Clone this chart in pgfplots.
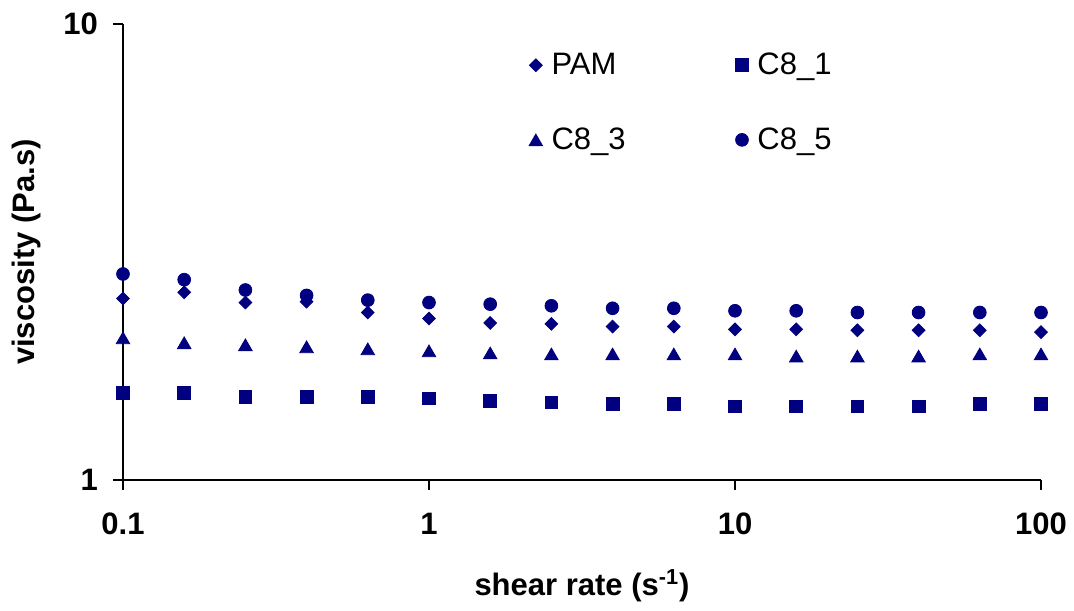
\documentclass[border=0pt]{standalone}
\usepackage{pgfplots}
\pgfplotsset{compat=1.18}
\usepackage{fontspec}
\setmainfont{Liberation Sans}
\definecolor{navy}{RGB}{0,0,128}
\begin{document}
\begin{tikzpicture}
\begin{axis}[
  name=ax, at={(0,0)}, anchor=south west,
  scale only axis, width=459pt, height=228pt,
  xmode=log, ymode=log,
  xmin=0.1, xmax=100, ymin=1, ymax=10,
  axis x line=bottom, axis y line=left,
  axis line style={-, line width=0.6pt, black},
  tick style={line width=0.6pt, black},
  tick align=outside, major tick length=5pt,
  minor tick num=0, 
  xminorticks=false, yminorticks=false,
  xtick={0.1,1,10,100}, xticklabels={\textbf{0.1},\textbf{1},\textbf{10},\textbf{100}},
  ytick={1,10}, yticklabels={\textbf{1},\textbf{10}},
  ticklabel style={font=\fontsize{15.5}{18}\selectfont},
  xticklabel style={yshift=-8pt},
  yticklabel style={xshift=-4pt},
  xlabel={\textbf{shear rate (s\textsuperscript{-1})}},
  ylabel={\textbf{viscosity (Pa.s)}},
  label style={font=\fontsize{15.5}{18}\selectfont},
  xlabel style={at={(0.5,0)}, anchor=base, yshift=-57.5pt},
  ylabel style={at={(0,0.5)}, anchor=base, rotate=0, yshift=44pt},
  legend columns=2,
  legend style={draw=none, fill=none, at={(rel axis cs:0.4354,0.955)}, anchor=north west,
    font=\fontsize{15.5}{18}\selectfont, row sep=21pt, column sep=0pt},
  legend cell align=left,
  legend image code/.code={\draw[mark repeat=2,mark phase=2,#1] plot coordinates {(0cm,0cm)(0.15cm,0cm)(0.4cm,0cm)};},
]
\addplot[only marks, mark=square*, mark size=2.25pt, mark options={rotate=45, draw=navy, fill=navy}] coordinates {
(0.1,2.50) (0.1585,2.58) (0.2512,2.45) (0.3981,2.46) (0.631,2.33) (1,2.26) (1.585,2.21) (2.512,2.20)
(3.981,2.17) (6.31,2.17) (10,2.14) (15.85,2.14) (25.12,2.13) (39.81,2.13) (63.1,2.13) (100,2.11)};
\addlegendentry{\hspace*{2.5pt}\makebox[90pt][l]{PAM}}
\addplot[only marks, mark=square*, mark size=3.2pt, mark options={draw=navy, fill=navy}] coordinates {
(0.1,1.55) (0.1585,1.55) (0.2512,1.52) (0.3981,1.52) (0.631,1.52) (1,1.51) (1.585,1.49) (2.512,1.48)
(3.981,1.47) (6.31,1.47) (10,1.45) (15.85,1.45) (25.12,1.45) (39.81,1.45) (63.1,1.47) (100,1.47)};
\addlegendentry{\hspace*{2.5pt}C8\_1}
\addplot[only marks, mark=triangle*, mark size=3.9pt, mark options={draw=navy, fill=navy, yshift=-1pt}] coordinates {
(0.1,2.05) (0.1585,2.00) (0.2512,1.98) (0.3981,1.96) (0.631,1.94) (1,1.92) (1.585,1.90) (2.512,1.89)
(3.981,1.89) (6.31,1.89) (10,1.89) (15.85,1.87) (25.12,1.87) (39.81,1.87) (63.1,1.89) (100,1.89)};
\addlegendentry{\hspace*{2.5pt}\makebox[90pt][l]{C8\_3}}
\addplot[only marks, mark=*, mark size=3.2pt, mark options={draw=navy, fill=navy}] coordinates {
(0.1,2.83) (0.1585,2.75) (0.2512,2.61) (0.3981,2.54) (0.631,2.48) (1,2.45) (1.585,2.43) (2.512,2.41)
(3.981,2.38) (6.31,2.38) (10,2.35) (15.85,2.35) (25.12,2.33) (39.81,2.33) (63.1,2.33) (100,2.33)};
\addlegendentry{\hspace*{2.5pt}C8\_5}
\end{axis}
\path[use as bounding box] (-61.5pt,-65pt) rectangle (475.5pt,240pt);
\end{tikzpicture}
\end{document}
